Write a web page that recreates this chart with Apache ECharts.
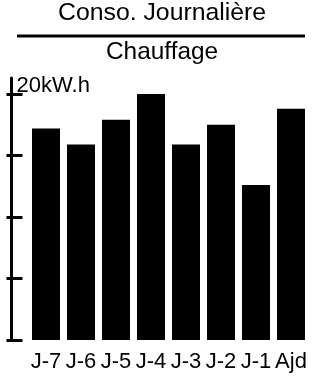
<!DOCTYPE html>
<html>
<head>
<meta charset="utf-8">
<script src="https://cdn.jsdelivr.net/npm/echarts@6/dist/echarts.min.js"></script>
<style>
html,body{margin:0;padding:0;background:#fff;}
#c{width:332px;height:378px;}
</style>
</head>
<body>
<div id="c"></div>
<script>
const categories = ['J-7', 'J-6', 'J-5', 'J-4', 'J-3', 'J-2', 'J-1', 'Ajd'];
const values = [17.2, 15.9, 17.9, 20.0, 15.9, 17.5, 12.6, 18.8];
const yTicks = [0, 5, 10, 15, 20];
const yLabelTicks = [20];
const yUnit = 'kW.h';
const yMax = 21.3;
const titleText = 'Conso. Journalière';
const subTitleText = 'Chauffage';

const FONT = 'Liberation Sans, Arial, sans-serif';
const chart = echarts.init(document.getElementById('c'), null, {renderer: 'canvas'});
const baseY = {
  type: 'value', min: 0, max: yMax, position: 'left', offset: 17,
  splitLine: {show: false}
};
chart.setOption({
  animation: false,
  backgroundColor: '#fff',
  title: [
    {text: titleText, left: 58, top: 1, padding: 0,
     textStyle: {fontFamily: FONT, fontSize: 24.8, fontWeight: 'normal', color: '#000'}},
    {text: subTitleText, left: 106, top: 40, padding: 0,
     textStyle: {fontFamily: FONT, fontSize: 24.4, fontWeight: 'normal', color: '#000'}}
  ],
  graphic: [{
    type: 'line', shape: {x1: 17, y1: 36, x2: 305, y2: 36},
    style: {stroke: '#000', lineWidth: 3}
  }],
  grid: {left: 28.5, right: 23.5, top: 78, bottom: 38, containLabel: false},
  xAxis: {
    type: 'category', data: categories,
    axisLine: {show: false}, axisTick: {show: false},
    axisLabel: {interval: 0, fontFamily: FONT, fontSize: 22, color: '#000', margin: 11}
  },
  yAxis: [
    Object.assign({}, baseY, {
      axisLine: {show: true, lineStyle: {color: '#000', width: 3}},
      axisTick: {show: true, inside: true, length: 11, customValues: yTicks,
                 lineStyle: {color: '#000', width: 3}},
      axisLabel: {show: true, inside: true, customValues: yLabelTicks, margin: 5,
                  verticalAlign: 'bottom', lineHeight: 16, fontFamily: FONT, fontSize: 22, color: '#000',
                  formatter: v => v + yUnit}
    }),
    Object.assign({}, baseY, {
      axisLine: {show: false},
      axisTick: {show: true, inside: false, length: 5, customValues: yTicks,
                 lineStyle: {color: '#000', width: 3}},
      axisLabel: {show: false}
    })
  ],
  series: [{
    type: 'bar', data: values, yAxisIndex: 0, barWidth: 28,
    itemStyle: {color: '#000'}
  }]
});
</script>
</body>
</html>
